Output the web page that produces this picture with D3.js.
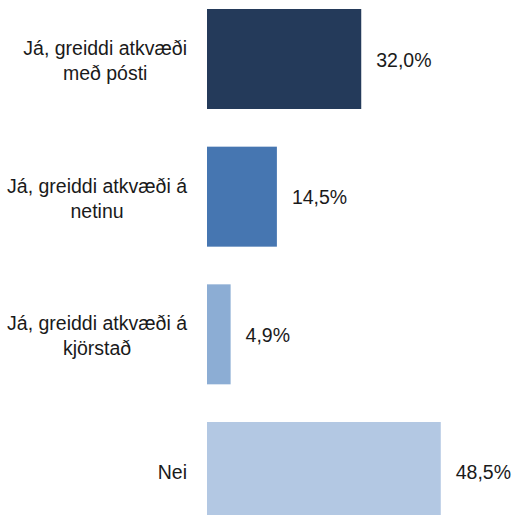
<!DOCTYPE html>
<html>
<head>
<meta charset="utf-8">
<script src="https://cdn.jsdelivr.net/npm/d3@7"></script>
<style>
  html, body { margin: 0; padding: 0; background: #fff; }
  svg { display: block; }
  text { font-family: "Liberation Sans", Arial, sans-serif; font-size: 19.5px; fill: #1a1a1a; }
</style>
</head>
<body>
<svg id="chart" width="517" height="515"></svg>
<script>
const categories = ["med_posti", "netinu", "kjorstad", "nei"];
const categoryLines = [
  ["Já, greiddi atkvæði", "með pósti"],
  ["Já, greiddi atkvæði á", "netinu"],
  ["Já, greiddi atkvæði á", "kjörstað"],
  ["Nei"]
];
const values = [32.0, 14.5, 4.9, 48.5];
const valueLabels = ["32,0%", "14,5%", "4,9%", "48,5%"];
const colors = ["#243a5a", "#4676b1", "#8cadd4", "#b3c8e3"];

const svg = d3.select("#chart");

const x = d3.scaleLinear().domain([0, 50]).range([207, 448]);
const y = d3.scaleBand().domain(categories).range([9, 522]).paddingInner(0.2736).paddingOuter(0);

svg.selectAll("rect.bar")
  .data(values)
  .join("rect")
  .attr("class", "bar")
  .attr("x", x(0))
  .attr("y", (d, i) => y(categories[i]))
  .attr("width", d => x(d) - x(0))
  .attr("height", y.bandwidth())
  .attr("fill", (d, i) => colors[i]);

// value labels
svg.selectAll("text.val")
  .data(values)
  .join("text")
  .attr("class", "val")
  .attr("x", d => x(d) + 15)
  .attr("y", (d, i) => y(categories[i]) + y.bandwidth() / 2 + 7.5)
  .text((d, i) => valueLabels[i]);

// category labels: lines centered to each other, block right edge at 187
const labelRight = 187;
categoryLines.forEach((lines, i) => {
  const cy = y(categories[i]) + y.bandwidth() / 2;
  const g = svg.append("g");
  const n = lines.length;
  const texts = lines.map((ln, j) => g.append("text")
    .attr("text-anchor", "middle")
    .attr("y", n === 1 ? cy + 7.5 : cy + 8.5 + (j - (n - 1) / 2) * 25)
    .text(ln));
  const maxW = d3.max(texts, t => t.node().getComputedTextLength());
  texts.forEach(t => t.attr("x", labelRight - maxW / 2));
});
</script>
</body>
</html>
